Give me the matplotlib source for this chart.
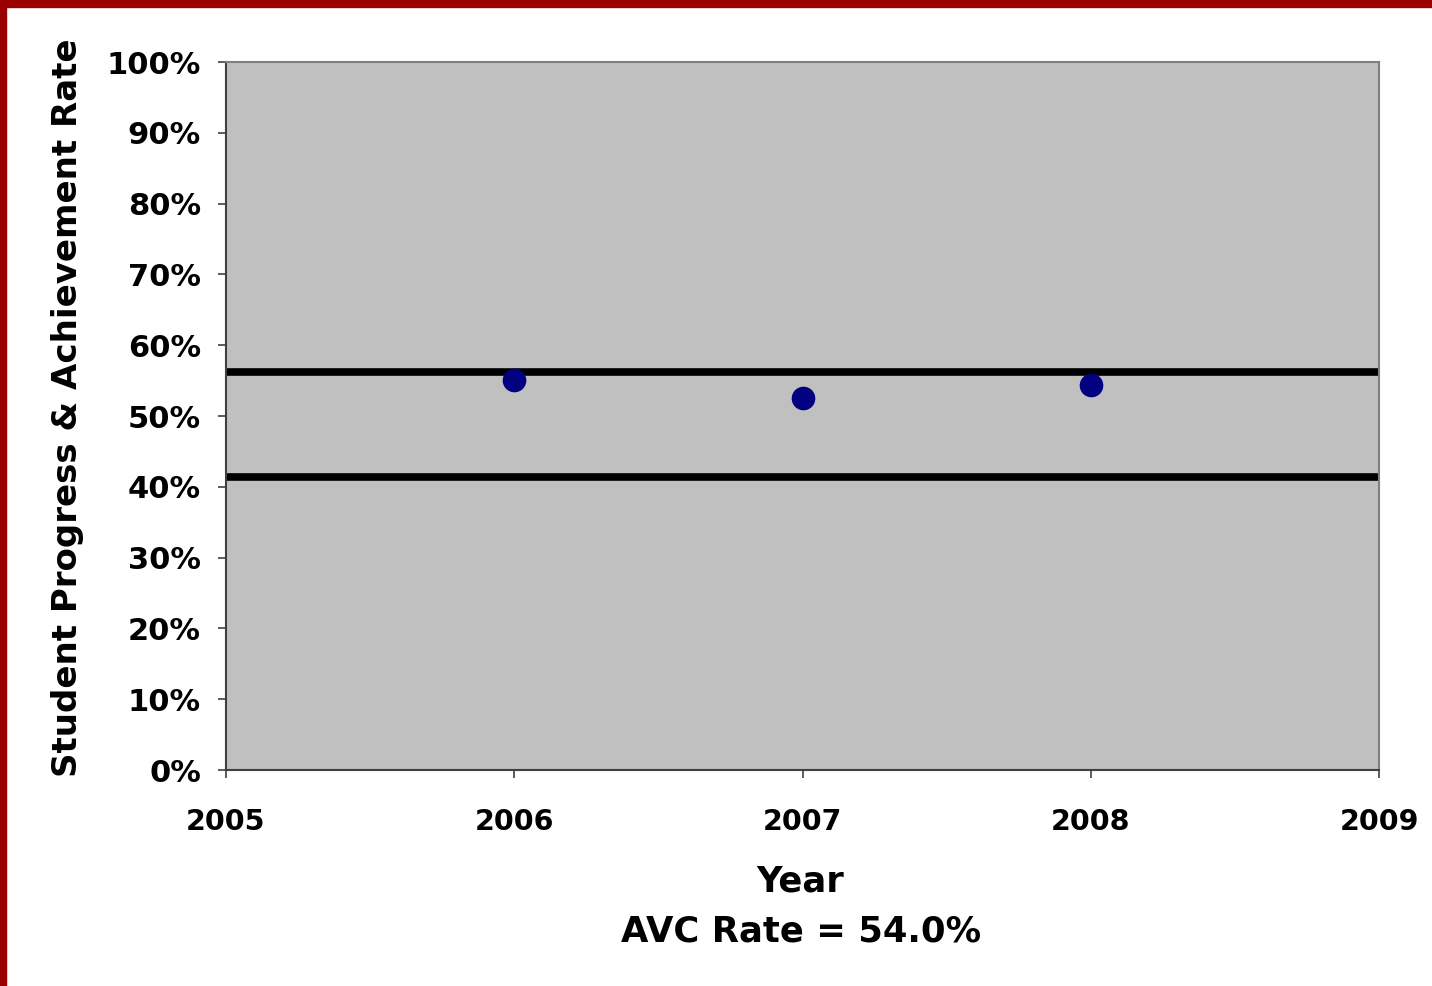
import matplotlib.pyplot as plt
from matplotlib.patches import Rectangle
from matplotlib.ticker import FuncFormatter

# data
years = [2006, 2007, 2008]
rates = [0.551, 0.526, 0.544]
upper_limit = 0.562
lower_limit = 0.414
avc_rate = 54.0

fig = plt.figure(figsize=(14.32, 9.86), dpi=100)
fig.patch.set_facecolor("white")

# red frame on top and left edge
fig.patches.append(Rectangle((0, 1 - 7 / 986), 1, 7 / 986, transform=fig.transFigure,
                             color="#9b0000", zorder=10))
fig.patches.append(Rectangle((0, 0), 6 / 1432, 1, transform=fig.transFigure,
                             color="#9b0000", zorder=10))

ax = fig.add_axes([226 / 1432, 1 - 770 / 986, (1379 - 226) / 1432, (770 - 62) / 986])
ax.set_facecolor("#c0c0c0")

ax.axhline(upper_limit, color="black", lw=5.5, zorder=2)
ax.axhline(lower_limit, color="black", lw=5.5, zorder=2)
ax.plot(years, rates, "o", color="#000080", markersize=16, zorder=3)

ax.set_xlim(2005, 2009)
ax.set_ylim(0, 1)
ax.set_xticks([2005, 2006, 2007, 2008, 2009])
ax.set_yticks([i / 10 for i in range(11)])
ax.yaxis.set_major_formatter(FuncFormatter(lambda v, p: f"{v * 100:.0f}%"))

for s in ["top", "right"]:
    ax.spines[s].set_color("#808080")
    ax.spines[s].set_linewidth(1.5)
for s in ["left", "bottom"]:
    ax.spines[s].set_color("#404040")
    ax.spines[s].set_linewidth(1.5)

ax.tick_params(axis="y", direction="out", length=6, width=1.2, pad=12,
               labelsize=22, color="#404040")
ax.tick_params(axis="x", direction="out", length=6, width=1.2, pad=21,
               labelsize=20.5, color="#404040")
for lbl in ax.get_xticklabels() + ax.get_yticklabels():
    lbl.set_fontweight("bold")

fig.text(68 / 1432, 1 - 408 / 986, "Student Progress & Achievement Rate", rotation=90,
         ha="center", va="center", fontsize=24.5, fontweight="bold")
fig.text(800 / 1432, 1 - 882 / 986, "Year", ha="center", va="center",
         fontsize=25.5, fontweight="bold")
fig.text(801 / 1432, 1 - 931 / 986, f"AVC Rate = {avc_rate:.1f}%", ha="center", va="center",
         fontsize=25.5, fontweight="bold")

plt.savefig("out.png", dpi=100)
